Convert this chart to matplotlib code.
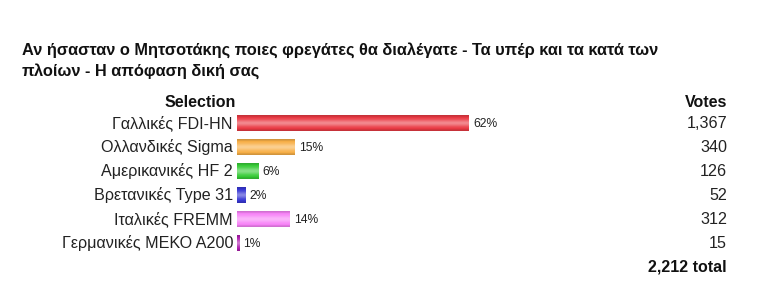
import matplotlib.pyplot as plt
import matplotlib.colors as mcolors
import matplotlib.transforms as mtransforms
import numpy as np

plt.rcParams['font.family'] = ['Liberation Sans', 'DejaVu Sans']

# Poll data
choices = ['Γαλλικές FDI-HN', 'Ολλανδικές Sigma', 'Αμερικανικές HF 2',
           'Βρετανικές Type 31', 'Ιταλικές FREMM', 'Γερμανικές ΜΕΚΟ Α200']
votes = [1367, 340, 126, 52, 312, 15]
percents = [62, 15, 6, 2, 14, 1]
colors = ['#ea3a44', '#f8b048', '#38cc38', '#3838d4', '#f884f8', '#b020b0']
total = sum(votes)

title_lines = ['Αν ήσασταν ο Μητσοτάκης ποιες φρεγάτες θα διαλέγατε - Τα υπέρ και τα κατά των',
               'πλοίων - Η απόφαση δική σας']

W, H = 757, 299
fig = plt.figure(figsize=(W / 100, H / 100), dpi=100)

# axes: x from 237px to 737px, rows 24px apart
ax_left, ax_right = 237, 737
top_px, bot_px = 87, 279
ax = fig.add_axes([ax_left / W, (H - bot_px) / H,
                   (ax_right - ax_left) / W, (bot_px - top_px) / H])
xmax = votes[0] * (ax_right - ax_left) / 232
ax.axis('off')

bar_h = 0.64

# glossy bars: vertical gradient, slightly darker edges, light band in the middle
shade = np.array([-0.15, 0.0, 0.12, 0.3, 0.42, 0.3, 0.12, 0.0, -0.15])
for i, (v, c) in enumerate(zip(votes, colors)):
    bar = ax.barh(i, v, height=bar_h, color=c, edgecolor='none')[0]
    base = np.array(mcolors.to_rgb(c))
    rgb = np.empty((len(shade), 1, 3))
    for k, s in enumerate(shade):
        rgb[k, 0] = base + (1 - base) * s if s > 0 else base * (1 + s)
    im = ax.imshow(rgb, extent=(0, v, i + bar_h / 2, i - bar_h / 2),
                   aspect='auto', interpolation='bilinear', zorder=2)
    im.set_clip_path(bar)

ax.set_xlim(0, xmax)
ax.set_ylim(6.5, -1.5)

left_tr = mtransforms.offset_copy(ax.transData, fig=fig, x=-4, y=0, units='dots')
head_tr = mtransforms.offset_copy(ax.transData, fig=fig, x=-1, y=0, units='dots')
pct_tr = mtransforms.offset_copy(ax.transData, fig=fig, x=4, y=0, units='dots')
right_tr = ax.get_yaxis_transform()
votes_x = (727 - ax_left) / (ax_right - ax_left)

txt = '#222222'
for i, (name, v, p) in enumerate(zip(choices, votes, percents)):
    ax.text(0, i, name, transform=left_tr, ha='right', va='center',
            fontsize=11.6, color=txt)
    ax.text(v, i + 0.05, f'{p}%', transform=pct_tr, ha='left', va='center',
            fontsize=8.7, color=txt)
    ax.text(votes_x, i, f'{v:,}', transform=right_tr, ha='right', va='center',
            fontsize=11.6, color=txt)

# headers and total
ax.text(0, -0.85, 'Selection', transform=head_tr, ha='right', va='center',
        fontsize=11.5, fontweight='bold', color='#111111')
ax.text(votes_x, -0.85, 'Votes', transform=right_tr, ha='right', va='center',
        fontsize=11.5, fontweight='bold', color='#111111')
ax.text(votes_x, 6, f'{total:,} total', transform=right_tr, ha='right', va='center',
        fontsize=11.5, fontweight='bold', color='#111111')

# title, two lines; first line sized to span ~633 px like the original
t1 = fig.text(22 / W, 1 - 55 / H, title_lines[0], ha='left', va='baseline',
              fontsize=12, fontweight='bold', color='#111111')
t2 = fig.text(22 / W, 1 - 76 / H, title_lines[1], ha='left', va='baseline',
              fontsize=12, fontweight='bold', color='#111111')
renderer = fig.canvas.get_renderer()
w = t1.get_window_extent(renderer).width
fs = 12 * 633 / w
t1.set_fontsize(fs)
t2.set_fontsize(fs)

fig.savefig('out.png', dpi=100)
